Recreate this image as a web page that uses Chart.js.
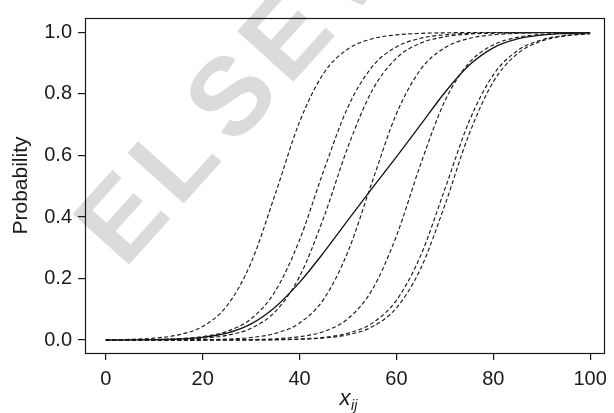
<!DOCTYPE html>
<html lang="en">
<head>
  <meta charset="UTF-8" />
  <title>Probability curves</title>
  <script src="https://cdn.jsdelivr.net/npm/chart.js"></script>
  <style>
    html, body { margin: 0; padding: 0; background: #fff; }
    #chart { display: block; }
  </style>
</head>
<body>
  <canvas id="chart" width="614" height="413"></canvas>

  <script>
    const xValues = [0, 5, 10, 15, 20, 25, 30, 35, 40, 45, 50, 55, 60, 65, 70, 75, 80, 85, 90, 95, 100];

    // dashed curves, left to right
    const curveA = [0.0009, 0.0024, 0.0064, 0.0170, 0.0444, 0.1111, 0.2518, 0.4753, 0.7091, 0.8677, 0.9464, 0.9794, 0.9922, 0.9971, 0.9989, 0.9996, 0.9999, 1.0, 1.0, 1.0, 1.0];
    const curveB = [0.0003, 0.0007, 0.0018, 0.0045, 0.0113, 0.0284, 0.0692, 0.1592, 0.3254, 0.5513, 0.7579, 0.8886, 0.9531, 0.9810, 0.9925, 0.9970, 0.9988, 0.9995, 0.9998, 0.9999, 1.0];
    const curveC = [0.0002, 0.0004, 0.0010, 0.0024, 0.0062, 0.0155, 0.0386, 0.0927, 0.2065, 0.3987, 0.6281, 0.8114, 0.9163, 0.9654, 0.9861, 0.9945, 0.9978, 0.9992, 0.9997, 0.9999, 1.0];
    const curveD = [0.0, 0.0001, 0.0002, 0.0005, 0.0012, 0.0032, 0.0084, 0.0218, 0.0553, 0.1333, 0.2876, 0.5145, 0.7356, 0.8795, 0.9504, 0.9805, 0.9925, 0.9971, 0.9989, 0.9996, 0.9998];
    const curveE = [0.0, 0.0, 0.0, 0.0001, 0.0002, 0.0006, 0.0016, 0.0042, 0.0109, 0.0279, 0.0696, 0.1636, 0.3381, 0.5715, 0.7769, 0.9010, 0.9596, 0.9842, 0.9939, 0.9976, 0.9991];
    const curveF = [0.0, 0.0, 0.0, 0.0, 0.0001, 0.0002, 0.0005, 0.0014, 0.0035, 0.0089, 0.0224, 0.0551, 0.1293, 0.2745, 0.4907, 0.7105, 0.8621, 0.9409, 0.9759, 0.9904, 0.9962];
    const curveG = [0.0, 0.0, 0.0, 0.0, 0.0001, 0.0002, 0.0004, 0.0010, 0.0026, 0.0067, 0.0172, 0.0432, 0.1046, 0.2320, 0.4386, 0.6689, 0.8393, 0.9310, 0.9722, 0.9890, 0.9957];

    // solid curve
    const meanCurve = [0.0002, 0.0005, 0.0013, 0.0035, 0.0091, 0.0227, 0.0529, 0.1079, 0.1876, 0.2849, 0.3899, 0.4937, 0.5956, 0.7001, 0.8049, 0.8931, 0.9500, 0.9788, 0.9915, 0.9966, 0.9987];

    const xTicks = [0, 20, 40, 60, 80, 100];
    const yTicks = [0.0, 0.2, 0.4, 0.6, 0.8, 1.0];

    const FONT = '"Liberation Sans", Arial, Helvetica, sans-serif';
    const INK = '#1a1a1a';

    function toPoints(values) {
      return xValues.map((x, i) => ({ x: x, y: values[i] }));
    }

    const datasets = [curveA, curveB, curveC, curveD, curveE, curveF, curveG].map(c => ({
      data: toPoints(c),
      borderColor: INK,
      borderWidth: 1.15,
      borderDash: [4, 2.5],
      pointRadius: 0,
      cubicInterpolationMode: 'monotone',
      fill: false
    }));
    datasets.push({
      data: toPoints(meanCurve),
      borderColor: '#111',
      borderWidth: 1.3,
      pointRadius: 0,
      cubicInterpolationMode: 'monotone',
      fill: false
    });

    // faint publisher stamp behind the plot
    const watermark = {
      id: 'watermark',
      beforeDraw(chart) {
        const ctx = chart.ctx;
        ctx.save();
        ctx.fillStyle = '#dbdbdb';
        ctx.font = 'bold 110px ' + FONT;
        ctx.textBaseline = 'alphabetic';
        const angle = -48 * Math.PI / 180;
        const step = 82;
        'ELSEVIER'.split('').forEach((ch, i) => {
          ctx.save();
          ctx.translate(124 + i * step * Math.cos(angle), 270 + i * step * Math.sin(angle));
          ctx.rotate(angle);
          ctx.fillText(ch, 0, 0);
          ctx.restore();
        });
        ctx.restore();
      }
    };

    // frame around the plot and the x_ij axis title
    const frame = {
      id: 'frame',
      afterDraw(chart) {
        const { ctx, chartArea: a } = chart;
        ctx.save();
        ctx.strokeStyle = INK;
        ctx.lineWidth = 1.2;
        ctx.strokeRect(Math.round(a.left) + 0.5, Math.round(a.top) + 0.5,
                       Math.round(a.right - a.left), Math.round(a.bottom - a.top));

        const cx = (a.left + a.right) / 2;
        ctx.fillStyle = INK;
        ctx.textBaseline = 'alphabetic';
        ctx.textAlign = 'left';
        ctx.font = 'italic 22px ' + FONT;
        const w = ctx.measureText('x').width;
        ctx.fillText('x', cx - 5, 405);
        ctx.font = 'italic 14px ' + FONT;
        ctx.fillText('ij', cx - 5 + w + 0.5, 410);
        ctx.restore();
      }
    };

    const tickFont = { family: FONT, size: 20 };

    new Chart(document.getElementById('chart'), {
      type: 'line',
      data: { datasets: datasets },
      plugins: [watermark, frame],
      options: {
        responsive: false,
        animation: false,
        layout: { padding: { left: 0, right: 7, top: 14, bottom: 0 } },
        plugins: {
          legend: { display: false },
          tooltip: { enabled: false }
        },
        scales: {
          x: {
            type: 'linear',
            min: -4.3,
            max: 102.9,
            afterBuildTicks: s => { s.ticks = xTicks.map(v => ({ value: v })); },
            afterFit: s => { s.height = 60; },
            border: { display: false },
            grid: { drawOnChartArea: false, drawTicks: true, tickLength: 7, color: INK, lineWidth: 1.2 },
            ticks: { padding: 7, color: INK, font: tickFont, autoSkip: false, maxRotation: 0, callback: v => v }
          },
          y: {
            type: 'linear',
            min: -0.042,
            max: 1.047,
            afterBuildTicks: s => { s.ticks = yTicks.map(v => ({ value: v })); },
            afterFit: s => { s.width = 85; },
            border: { display: false },
            grid: { drawOnChartArea: false, drawTicks: true, tickLength: 7, color: INK, lineWidth: 1.2 },
            ticks: { padding: 6, color: INK, font: tickFont, autoSkip: false, callback: v => v.toFixed(1) },
            title: {
              display: true,
              text: 'Probability',
              color: INK,
              font: { family: FONT, size: 21 },
              padding: { top: 9, bottom: 0 }
            }
          }
        }
      }
    });
  </script>
</body>
</html>
